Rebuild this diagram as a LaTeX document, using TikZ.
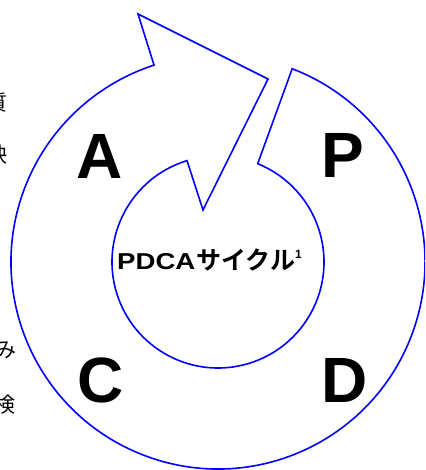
\documentclass[tikz,border=0pt]{standalone}
\usepackage{fontspec}
\setmainfont{Liberation Sans}
\newfontfamily\jp{Noto Sans CJK JP}
\newfontfamily\jpb{Noto Sans CJK JP Bold}
\usetikzlibrary{calc}
\definecolor{ringblue}{RGB}{0,0,255}
\tikzset{
  ring/.style={draw=ringblue, line width=1.6pt, line join=miter},
  letter/.style={font=\fontsize{64}{64}\selectfont\bfseries, inner sep=0pt},
  title/.style={inner sep=0pt, anchor=base west},
  side/.style={font=\jp\fontsize{21}{21}\selectfont, inner sep=0pt}
}
\begin{document}
\begin{tikzpicture}[x=1pt,y=1pt]
\useasboundingbox (0,0) rectangle (425,470);
\clip (0,0) rectangle (425,470);
\coordinate (O) at (218,208);
\coordinate (so) at ([shift={(69:207pt)}]O);
\coordinate (bo) at (138,456);
\coordinate (tip) at (268,391);
\coordinate (bi) at (203,260);
\coordinate (ie) at ([shift={(107:106pt)}]O);
\draw[ring] (so) arc[start angle=69, end angle=-252, radius=207pt]
  -- (bo) -- (tip) -- (bi) -- (ie)
  arc[start angle=107, end angle=428, radius=106pt] -- cycle;
\node[letter] (A) at (100,314) {A};
\node[letter] (P) at (343,315) {P};
\node[letter] (C) at (101,90) {C};
\node[letter] (D) at (345,90) {D};
\node[title] (t) at (117,200.5) {\scalebox{1.2}[1]{\fontsize{23}{23}\selectfont\bfseries PDCA}\hspace{1pt}{\jpb\fontsize{25}{25}\selectfont サイクル}\raisebox{11pt}{\fontsize{12}{12}\selectfont\bfseries 1}};
\node[side] (s1) at (-2.5,367) {質};
\node[side] (s2) at (-2.5,315) {映};
\node[side] (s3) at (5.5,120) {み};
\node[side] (s4) at (5,65) {検};
\end{tikzpicture}
\end{document}
